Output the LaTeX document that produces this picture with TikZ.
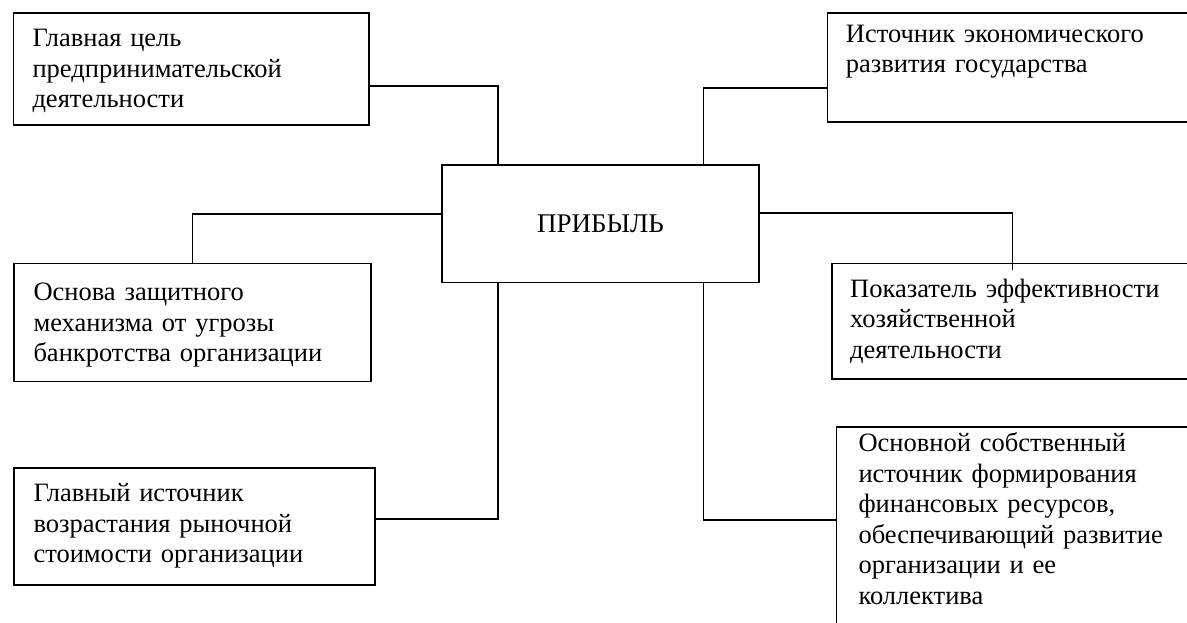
\documentclass[tikz,border=0pt]{standalone}
\usepackage{fontspec}
\setmainfont{Liberation Serif}
\begin{document}
\begin{tikzpicture}[x=1pt,y=-1pt,
  box/.style={draw, line width=1.6pt, rectangle, inner sep=0pt, anchor=north west},
  lbl/.style={anchor=base west, inner sep=0pt, text width=420pt, align=left, font=\fontsize{26.5}{30.5}\selectfont},
  link/.style={line width=1.6pt}]
\useasboundingbox (0,0) rectangle (1187,623);
\clip (0,0) rectangle (1187,623);
% boxes
\node[box, minimum width=355.3pt, minimum height=112pt] (tl) at (12.7,12) {};
\node[box, minimum width=380pt, minimum height=109pt] (tr) at (826.7,12) {};
\node[box, minimum width=356.7pt, minimum height=118pt] (ml) at (13.3,262.7) {};
\node[box, minimum width=380pt, minimum height=115.3pt] (mr) at (831,262.7) {};
\node[box, minimum width=361.3pt, minimum height=117pt] (bl) at (13,467.3) {};
\node[box, minimum width=380pt, minimum height=230pt] (br) at (835.7,426) {};
\node[box, minimum width=317.3pt, minimum height=117.4pt, font=\fontsize{27}{30}\selectfont] (c) at (441,164.3) {ПРИБЫЛЬ};
% labels
\node[lbl] (tlt) at (32.3,46.7) {Главная цель\\предпринимательской\\деятельности};
\node[lbl] (trt) at (845.7,42.5) {Источник экономического\\развития государства};
\node[lbl] (mlt) at (33.3,300.7) {Основа защитного\\механизма от угрозы\\банкротства организации};
\node[lbl] (mrt) at (850,297.3) {Показатель эффективности\\хозяйственной\\деятельности};
\node[lbl] (blt) at (33.3,501.7) {Главный источник\\возрастания рыночной\\стоимости организации};
\node[lbl] (brt) at (858.3,451.7) {Основной собственный\\источник формирования\\финансовых ресурсов,\\обеспечивающий развитие\\организации и ее\\коллектива};
% connectors
\draw[link] ([yshift=-17pt]tl.east) -| ([xshift=56.7pt]c.north west);
\draw[link] ([yshift=-20.5pt]tr.west) -| ([xshift=-56.6pt]c.north east);
\draw[link] ([yshift=9.7pt]c.west) -| (ml.north);
\draw[link] ([yshift=10.7pt]c.east) -| ([xshift=181.3pt,yshift=-7.3pt]mr.north west);
\draw[link] ([yshift=7.5pt]bl.east) -| ([xshift=56.7pt]c.south west);
\draw[link] ([xshift=-56.6pt]c.south east) |- ([yshift=-94pt]br.north west);
\end{tikzpicture}
\end{document}
